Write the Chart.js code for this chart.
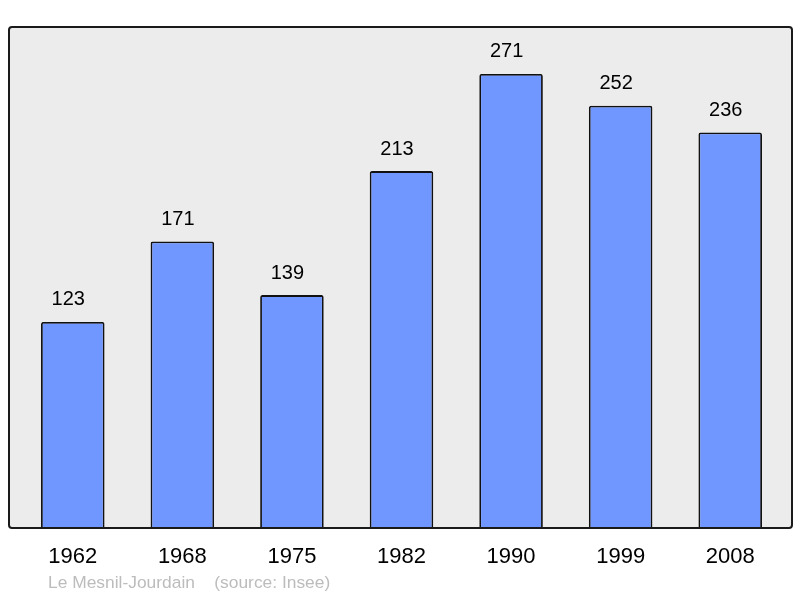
<!DOCTYPE html>
<html><head><meta charset="utf-8">
<script src="https://cdn.jsdelivr.net/npm/chart.js@4/dist/chart.umd.min.js"></script>
<style>html,body{margin:0;padding:0;background:#fff}#wrap{width:800px;height:598px}</style>
</head><body><div id="wrap"><canvas id="c" width="800" height="598"></canvas></div>
<script>
const years = ['1962','1968','1975','1982','1990','1999','2008'];
const population = [123,171,139,213,271,252,236];
const footerText = 'Le Mesnil-Jourdain    (source: Insee)';

const boxPlugin = {
  id: 'box',
  beforeDraw(chart) {
    const ctx = chart.ctx, a = chart.chartArea;
    ctx.save();
    const x0 = 9, x1 = 792, y0 = a.top, y1 = a.bottom;
    ctx.beginPath();
    ctx.roundRect(x0, y0, x1 - x0, y1 - y0, 3);
    ctx.fillStyle = '#ececec';
    ctx.fill();
    ctx.restore();
  },
  afterDatasetsDraw(chart) {
    const ctx = chart.ctx, a = chart.chartArea;
    ctx.save();
    const x0 = 9, x1 = 792, y0 = a.top, y1 = a.bottom;
    ctx.beginPath();
    ctx.roundRect(x0, y0, x1 - x0, y1 - y0, 3);
    ctx.lineWidth = 2;
    ctx.strokeStyle = '#1a1a1a';
    ctx.stroke();
    // value labels
    const meta = chart.getDatasetMeta(0);
    ctx.fillStyle = '#000';
    ctx.font = '20px "Liberation Sans", Arial, sans-serif';
    ctx.textAlign = 'center';
    ctx.textBaseline = 'middle';
    meta.data.forEach((bar, i) => {
      ctx.fillText(String(population[i]), bar.x - 4.5, bar.y - 22);
    });
    // footer
    ctx.fillStyle = '#bcbcbc';
    ctx.font = '17.4px "Liberation Sans", Arial, sans-serif';
    ctx.textAlign = 'left';
    ctx.fillText(footerText, 48, 583);
    ctx.restore();
  }
};

new Chart(document.getElementById('c'), {
  type: 'bar',
  data: {
    labels: years,
    datasets: [{
      data: population,
      backgroundColor: '#7096ff',
      borderColor: '#111',
      borderWidth: 1.8,
      borderSkipped: 'bottom',
      borderRadius: 2,
      categoryPercentage: 1,
      barPercentage: 0.58
    }]
  },
  options: {
    responsive: false,
    animation: false,
    layout: { padding: { left: 18, right: 15, top: 27, bottom: 0 } },
    plugins: { legend: { display: false }, tooltip: { enabled: false } },
    scales: {
      x: {
        grid: { display: false, drawTicks: false },
        border: { display: false },
        ticks: { color: '#000', font: { size: 22, family: '"Liberation Sans", Arial, sans-serif' }, padding: 16, maxRotation: 0 },
        afterFit(s) { s.height = 70; }
      },
      y: { display: false, min: 0, max: 299 }
    }
  },
  plugins: [boxPlugin]
});
</script></body></html>
